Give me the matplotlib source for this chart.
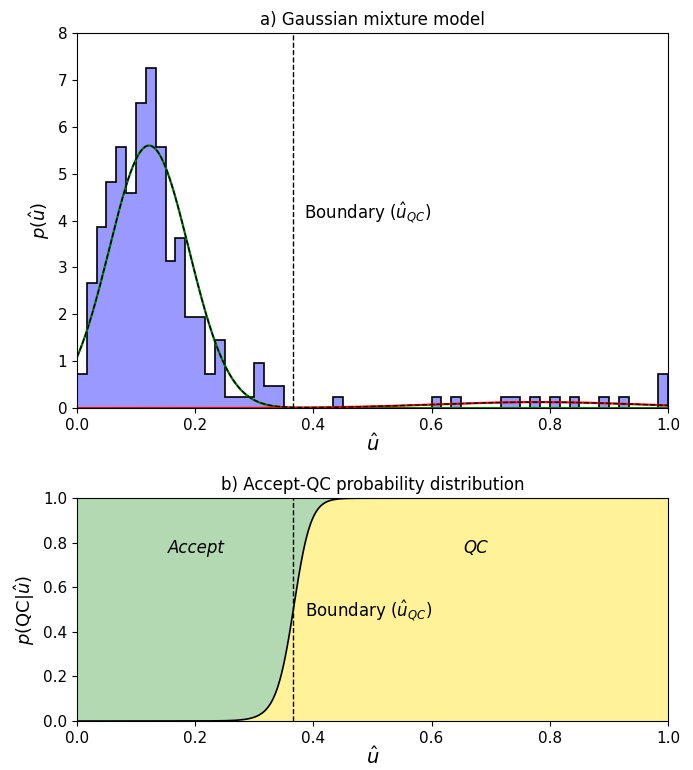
import numpy as np
import matplotlib.pyplot as plt

# histogram (60 equal bins over [0, 1]), density heights
n_bins = 60
hist_heights = [0.73, 2.66, 3.86, 4.83, 5.56, 4.59, 6.51, 7.25, 5.56, 3.14,
                3.63, 1.94, 1.94, 0.73, 1.46, 0.24, 0.24, 0.24, 0.97, 0.48,
                0.48, 0, 0, 0, 0, 0, 0.24, 0, 0, 0,
                0, 0, 0, 0, 0, 0, 0.24, 0, 0.24, 0,
                0, 0, 0, 0.24, 0.24, 0, 0.24, 0, 0.24, 0,
                0.24, 0, 0, 0.24, 0, 0.24, 0, 0, 0, 0.72]

# fitted mixture components: weight, mean, std
comp_accept = (0.945, 0.122, 0.0673)
comp_qc = (0.056, 0.78, 0.175)


def gauss(x, w, mu, sd):
    return w / (sd * np.sqrt(2 * np.pi)) * np.exp(-(x - mu) ** 2 / (2 * sd ** 2))


x = np.linspace(0, 1, 1001)
g1 = gauss(x, *comp_accept)
g2 = gauss(x, *comp_qc)
p_qc = g2 / (g1 + g2)
# boundary where both components are equally likely
mid = (x > comp_accept[1]) & (x < comp_qc[1])
boundary = x[mid][np.argmin(np.abs(p_qc[mid] - 0.5))]

fig = plt.figure(figsize=(6.93, 7.7), dpi=100)
ax1 = fig.add_axes([0.111, 0.470, 0.853, 0.487])
ax2 = fig.add_axes([0.111, 0.0636, 0.853, 0.2894])

edges = np.linspace(0, 1, n_bins + 1)
ax1.stairs(hist_heights, edges, fill=True, color=(0.6, 0.6, 1.0))
ax1.stairs(hist_heights, edges, color='black', lw=1.2)
ax1.plot(x, g1, color='green', lw=1.6)
ax1.plot(x, g2, color='red', lw=1.6)
ax1.plot(x, g1 + g2, color='black', ls='--', lw=1)
ax1.axvline(boundary, color='black', ls='--', lw=1)
ax1.text(0.384, 4.16, r'Boundary ($\hat{u}_{QC}$)', fontsize=12, va='center')
ax1.set_xlim(0, 1)
ax1.set_ylim(0, 8)
ax1.set_xticks([0, 0.2, 0.4, 0.6, 0.8, 1.0])
ax1.set_yticks(range(9))
ax1.set_title('a) Gaussian mixture model', fontsize=12)
ax1.set_xlabel(r'$\hat{u}$', fontsize=14, labelpad=0)
ax1.set_ylabel(r'$p(\hat{u})$', fontsize=13)

ax2.fill_between(x, p_qc, 1, color=(0.70, 0.85, 0.70), lw=0)
ax2.fill_between(x, 0, p_qc, color=(1.0, 0.95, 0.60), lw=0)
ax2.plot(x, p_qc, color='black', lw=1.2)
ax2.axvline(boundary, color='black', ls='--', lw=1)
ax2.text(0.202, 0.776, 'Accept', fontsize=12, style='italic', ha='center', va='center')
ax2.text(0.674, 0.776, 'QC', fontsize=12, style='italic', ha='center', va='center')
ax2.text(0.386, 0.49, r'Boundary ($\hat{u}_{QC}$)', fontsize=12, va='center')
ax2.set_xlim(0, 1)
ax2.set_ylim(0, 1)
ax2.set_xticks([0, 0.2, 0.4, 0.6, 0.8, 1.0])
ax2.set_yticks([0, 0.2, 0.4, 0.6, 0.8, 1.0])
ax2.set_title('b) Accept-QC probability distribution', fontsize=12)
ax2.set_xlabel(r'$\hat{u}$', fontsize=14, labelpad=0)
ax2.set_ylabel(r'$p(\mathrm{QC}|\hat{u})$', fontsize=13)

for ax in (ax1, ax2):
    ax.tick_params(labelsize=11)

fig.savefig('out.png', dpi=100)
